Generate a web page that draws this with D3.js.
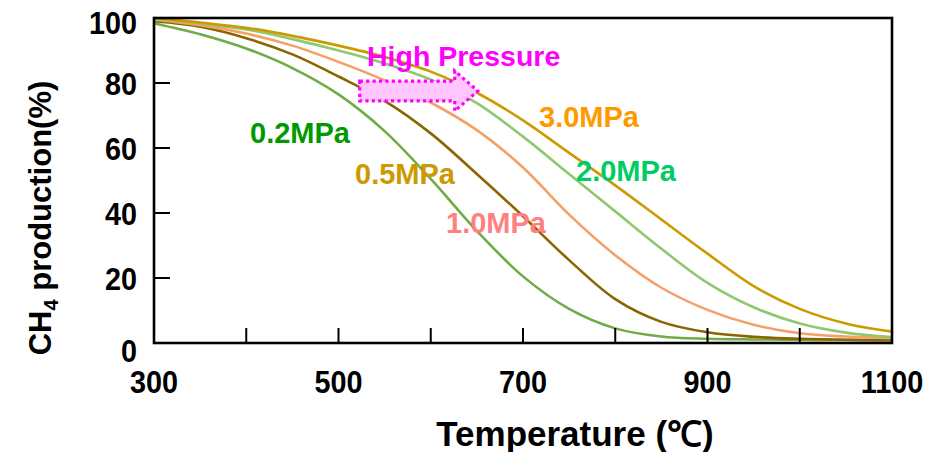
<!DOCTYPE html>
<html><head><meta charset="utf-8">
<script src="https://cdn.jsdelivr.net/npm/d3@7"></script>
<style>
html,body{margin:0;padding:0;background:#fff;}
svg{display:block;}
text{font-family:"Liberation Sans",Arial,sans-serif;}
</style></head>
<body>
<svg id="chart" width="933" height="452"></svg>
<script>
// ---- data ----
const temperatures = [300,350,400,450,500,550,600,650,700,750,800,850,900,950,1000,1050,1100];
const p02 = [98.3,95,90.6,84.6,76.5,65.2,50.5,34.5,20.5,10.5,4.5,2,1.3,1.1,1,0.9,0.9];
const p05 = [99,97.3,93.8,88.8,82,74.5,64.5,52,39,25.5,13.5,6.5,3.3,1.9,1.3,1,0.9];
const p10 = [99.5,97.8,95.2,91.5,86.5,80.8,74,65.5,54,39.5,27,17,10.2,5.6,3,2,1.5];
const p20 = [99.7,98.3,96.5,93.5,90,86,81,73.8,63.5,52,40.5,29,18.5,11,6,3.2,1.8];
const p30 = [100,98.6,97,94.5,91.5,88,83.5,77,68.5,58.5,48.5,38,27.5,17.5,10.5,6,3.5];
const seriesNames = ["0.2MPa","0.5MPa","1.0MPa","2.0MPa","3.0MPa"];
const xTickLabels = [300,500,700,900,1100];
const xMinorTicks = [400,500,600,700,800,900,1000];
const yTicks = [0,20,40,60,80,100];

const series = [
  {name:seriesNames[0], values:p02, color:"#6fac46", label:"#009a00", lx:250, ly:143},
  {name:seriesNames[1], values:p05, color:"#8c6400", label:"#cc9900", lx:355, ly:184},
  {name:seriesNames[2], values:p10, color:"#f4a066", label:"#ff8080", lx:446, ly:233},
  {name:seriesNames[3], values:p20, color:"#8fc86e", label:"#00cc66", lx:576, ly:181},
  {name:seriesNames[4], values:p30, color:"#cc9a00", label:"#ff9900", lx:539, ly:127}
];

const svg = d3.select("#chart");
const L=154, R=892, T=18, B=343;
const x = d3.scaleLinear().domain([300,1100]).range([L,R]);
const y = d3.scaleLinear().domain([0,100]).range([B,T]);

svg.append("clipPath").attr("id","plotclip").append("rect")
  .attr("x",L).attr("y",T-2).attr("width",R-L).attr("height",B-T+2);

const line = d3.line().x((d,i)=>x(temperatures[i])).y(d=>y(d)).curve(d3.curveCatmullRom.alpha(0.5));
const g = svg.append("g").attr("clip-path","url(#plotclip)");
series.forEach(s=>{
  g.append("path").attr("d",line(s.values)).attr("fill","none")
    .attr("stroke",s.color).attr("stroke-width",2.6);
});

// frame
svg.append("rect").attr("x",L).attr("y",T).attr("width",R-L).attr("height",B-T)
  .attr("fill","none").attr("stroke","#000").attr("stroke-width",2.6);

// y ticks
svg.selectAll(".yt").data(yTicks.filter(v=>v>0&&v<100)).enter().append("line")
  .attr("x1",L).attr("x2",L+16).attr("y1",d=>y(d)).attr("y2",d=>y(d))
  .attr("stroke","#000").attr("stroke-width",2);
svg.selectAll(".yl").data(yTicks).enter().append("text")
  .attr("transform",d=>`translate(137,${y(d)+ (d===0?19:(d===100?16:12))}) scale(0.9,1)`)
  .attr("text-anchor","end").attr("font-size",32).attr("font-weight","bold")
  .text(d=>d);

// x ticks
svg.selectAll(".xt").data(xMinorTicks).enter().append("line")
  .attr("x1",d=>x(d)).attr("x2",d=>x(d)).attr("y1",B).attr("y2",B-15)
  .attr("stroke","#000").attr("stroke-width",2);
svg.selectAll(".xl").data(xTickLabels).enter().append("text")
  .attr("transform",d=>`translate(${x(d)},393) scale(0.9,1)`)
  .attr("text-anchor","middle").attr("font-size",32).attr("font-weight","bold")
  .text(d=>d);

// axis titles
svg.append("text").attr("x",575).attr("y",446).attr("text-anchor","middle")
  .attr("font-size",35).attr("font-weight","bold").text("Temperature (℃)");
const yt = svg.append("text").attr("transform","translate(51,218) rotate(-90)")
  .attr("text-anchor","middle").attr("font-size",31).attr("font-weight","bold");
yt.append("tspan").text("CH");
yt.append("tspan").attr("font-size",20).attr("dy",7).text("4");
yt.append("tspan").attr("dy",-7).text(" production(%)");

// series labels
series.forEach(s=>{
  svg.append("text").attr("x",s.lx).attr("y",s.ly).attr("font-size",29).attr("font-weight","bold")
    .attr("fill",s.label).text(s.name);
});

// High pressure arrow
const ax0 = x(523), ax1 = x(626), axTip = x(651);
const ay0 = y(80.6), ay1 = y(74.5), ayTop = y(83.7), ayBot = y(71.4);
const arrowPts = [[ax0,ay0],[ax1,ay0],[ax1,ayTop],[axTip,(ay0+ay1)/2],[ax1,ayBot],[ax1,ay1],[ax0,ay1]];
svg.append("path").attr("d",d3.line()(arrowPts)+"Z")
  .attr("fill","#ffc6ff").attr("stroke","#ff00ff").attr("stroke-width",3.2)
  .attr("stroke-dasharray","3.2,3.2");
svg.append("text").attr("x",367).attr("y",66).attr("font-size",28.5).attr("font-weight","bold")
  .attr("fill","#ff00ff").text("High Pressure");
</script>
</body></html>
